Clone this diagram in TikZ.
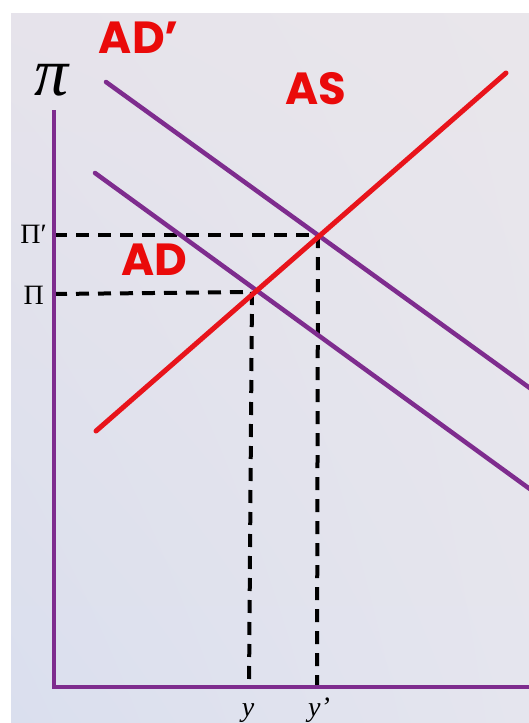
\documentclass[tikz,border=0pt]{standalone}
\usepackage{fontspec}
\usetikzlibrary{shadings}
\newfontfamily\labfont{Poppins}
\newfontfamily\grk{Liberation Serif}
\definecolor{curvepurple}{HTML}{7E2C8E}
\definecolor{curvered}{HTML}{E8141B}
\definecolor{labred}{HTML}{EA0A0A}
\definecolor{bgul}{RGB}{230,227,235}
\definecolor{bgur}{RGB}{233,230,235}
\definecolor{bgll}{RGB}{218,223,238}
\definecolor{bglr}{RGB}{229,229,238}
\tikzset{
  axisline/.style={curvepurple, line width=4pt},
  adline/.style={curvepurple, line width=4.5pt, line cap=round},
  asline/.style={curvered, line width=5pt, line cap=round},
  dline/.style={black, line width=4pt, dash pattern=on 13pt off 9pt},
  curvelab/.style={text=labred, font=\labfont\bfseries\fontsize{45}{45}\selectfont, inner sep=0pt},
  ticklab/.style={font=\grk\fontsize{28}{28}\selectfont, inner sep=0pt},
  yticklab/.style={font=\grk\itshape\fontsize{28}{28}\selectfont, inner sep=0pt, anchor=base},
}
\begin{document}
\begin{tikzpicture}[x=1pt,y=-1pt]
\useasboundingbox (0,0) rectangle (529,723);
\clip (0,0) rectangle (529,723);
\fill[white] (0,0) rectangle (529,723);
\shade[upper left=bgul, upper right=bgur, lower left=bgll, lower right=bglr]
  (11,13) rectangle (529,723);

% key points
\coordinate (O) at (54,687);
\coordinate (ytop) at (54,110);
\coordinate (xend) at (540,687);
\coordinate (E1) at (252,292);
\coordinate (E2) at (318,235);
\coordinate (P1) at (54,294);
\coordinate (P2) at (54,235);
\coordinate (Y1) at (249,687);
\coordinate (Y2) at (317,687);
\coordinate (ADa) at (95,173);
\coordinate (ADb) at (545,500);
\coordinate (ADpa) at (106,82);
\coordinate (ADpb) at (545,399);
\coordinate (ASa) at (96,431);
\coordinate (ASb) at (506,73);

% dashed guides
\draw[dline] (P2) -- (E2);
\draw[dline] (P1) -- (E1);
\draw[dline] (E1) -- (Y1);
\draw[dline] (E2) -- (Y2);

% curves
\draw[adline] (ADpa) -- (ADpb);
\draw[adline] (ADa) -- (ADb);
\draw[asline] (ASa) -- (ASb);

% axes
\draw[axisline] (ytop) -- (O) -- (xend);

% labels
\node[font=\grk\itshape\fontsize{68}{68}\selectfont, inner sep=0pt] (pi) at (52,80) {π};
\node[curvelab] (adplab) at (139,38) {AD’};
\node[curvelab] (aslab) at (316,89) {AS};
\node[curvelab] (adlab) at (154,260) {AD};
\node[ticklab, anchor=east] (pip) at (47,234) {Π′};
\node[ticklab, anchor=east] (pil) at (44,295) {Π};
\node[yticklab] (ylab) at (248,716) {y};
\node[yticklab] (yplab) at (319,716) {y’};
\end{tikzpicture}
\end{document}
